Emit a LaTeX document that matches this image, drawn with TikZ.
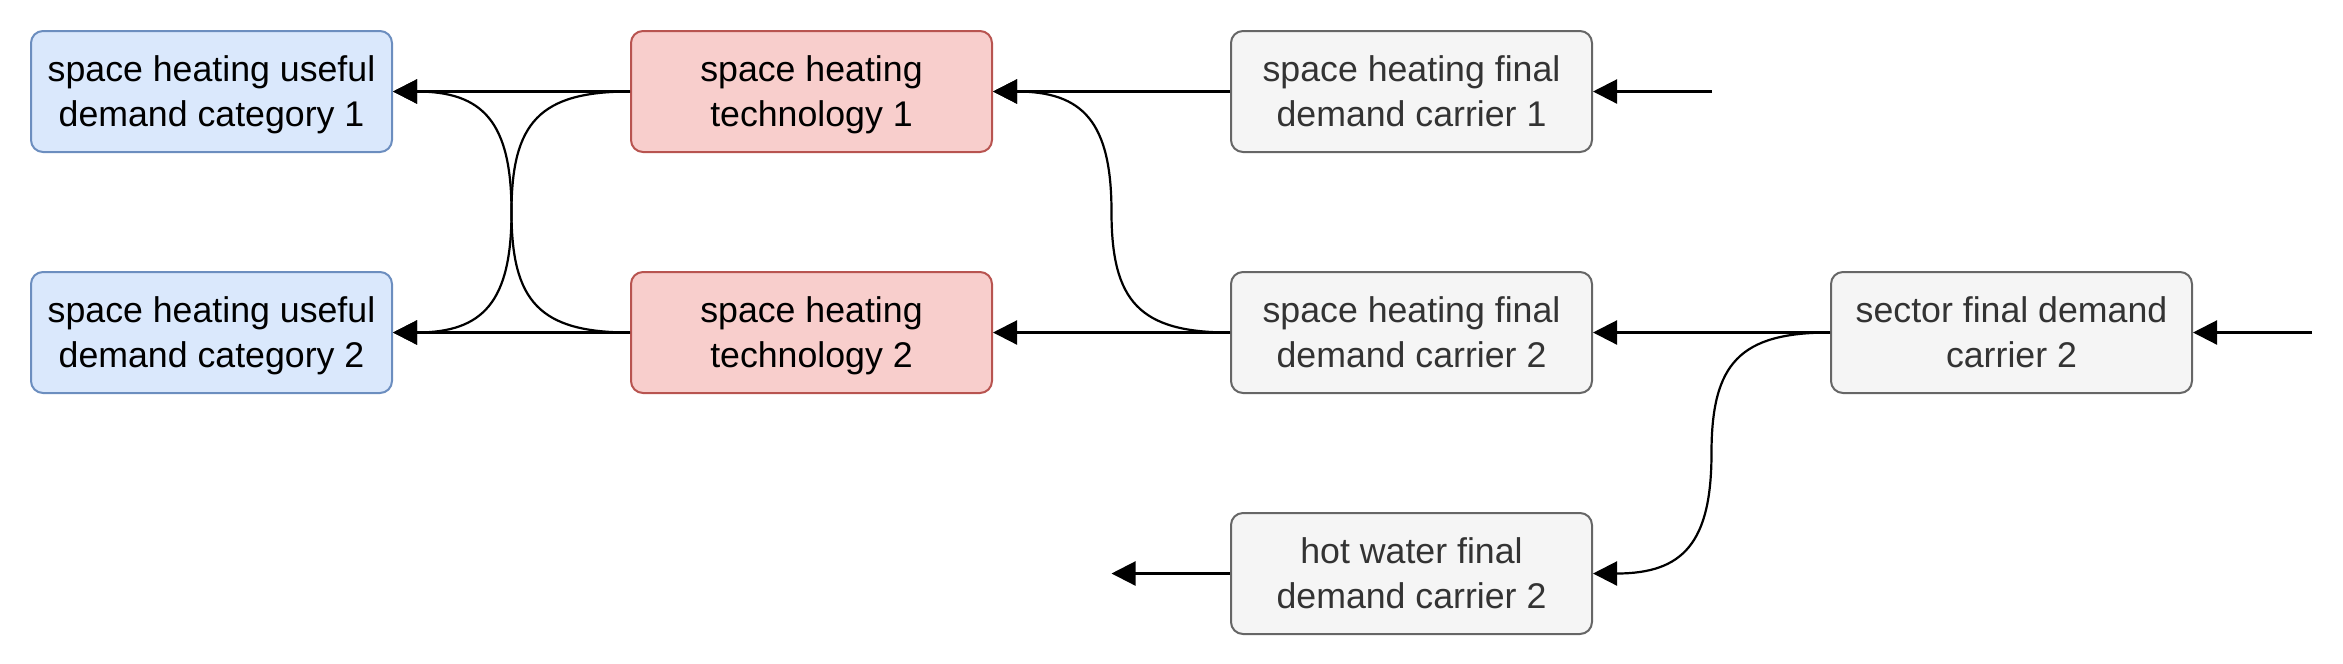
\documentclass[tikz,border=0pt]{standalone}
\usepackage{fontspec}
\setmainfont{Liberation Sans}
\usepackage{xcolor}
\usepackage{tikz}
\usetikzlibrary{calc, arrows.meta}

\definecolor{usefulfill}{HTML}{DAE8FC}
\definecolor{usefuldraw}{HTML}{6C8EBF}
\definecolor{techfill}{HTML}{F8CECC}
\definecolor{techdraw}{HTML}{B85450}
\definecolor{carrierfill}{HTML}{F5F5F5}
\definecolor{carrierdraw}{HTML}{666666}
\definecolor{carriertext}{HTML}{333333}

\tikzset{
	box/.style={rounded corners=0.12cm, line width=0.02cm, minimum width=3.61cm, minimum height=1.21cm,
		align=center, inner sep=0pt, text depth=0pt, font=\fontsize{10.16pt}{12.8pt}\selectfont},
	useful/.style={box, draw=usefuldraw, fill=usefulfill},
	tech/.style={box, draw=techdraw, fill=techfill},
	carrier/.style={box, draw=carrierdraw, fill=carrierfill, text=carriertext},
	flow/.style={line width=0.022cm, -{Triangle[length=0.24cm, width=0.24cm]}}
}

\begin{document}
\begin{tikzpicture}

		\useasboundingbox (0, 0) rectangle (23.43, -6.63);

		\node[useful] (useful1) at (2.115, -0.915) {space heating useful\\demand category 1};
		\node[useful] (useful2) at (2.115, -3.325) {space heating useful\\demand category 2};

		\node[tech] (tech1) at (8.115, -0.915) {space heating\\technology 1};
		\node[tech] (tech2) at (8.115, -3.325) {space heating\\technology 2};

		\node[carrier] (carrier1) at (14.115, -0.915) {space heating final\\demand carrier 1};
		\node[carrier] (carrier2) at (14.115, -3.325) {space heating final\\demand carrier 2};
		\node[carrier] (water2) at (14.115, -5.735) {hot water final\\demand carrier 2};

		\node[carrier] (sector2) at (20.115, -3.325) {sector final demand\\carrier 2};

		\coordinate (in1) at (17.12, -0.915);
		\coordinate (in2) at (23.12, -3.325);
		\coordinate (out2) at (11.115, -5.735);

		% straight flows
		\draw[flow] (in1) -- (carrier1);
		\draw[flow] (in2) -- (sector2);
		\draw[flow] (sector2) -- (carrier2);
		\draw[flow] (carrier1) -- (tech1);
		\draw[flow] (carrier2) -- (tech2);
		\draw[flow] (tech1) -- (useful1);
		\draw[flow] (tech2) -- (useful2);
		\draw[flow] (water2) -- (out2);

		% curved flows
		\draw[flow] (carrier2.west) .. controls +(-0.9, 0) and +(0, -0.9) .. ($(carrier2.west)!0.5!(tech1.east)$)
			.. controls +(0, 0.9) and +(0.9, 0) .. (tech1.east);
		\draw[flow] (sector2.west) .. controls +(-0.9, 0) and +(0, 0.9) .. ($(sector2.west)!0.5!(water2.east)$)
			.. controls +(0, -0.9) and +(0.9, 0) .. (water2.east);
		\draw[flow] (tech1.west) .. controls +(-0.9, 0) and +(0, 0.9) .. ($(tech1.west)!0.5!(useful2.east)$)
			.. controls +(0, -0.9) and +(0.9, 0) .. (useful2.east);
		\draw[flow] (tech2.west) .. controls +(-0.9, 0) and +(0, -0.9) .. ($(tech2.west)!0.5!(useful1.east)$)
			.. controls +(0, 0.9) and +(0.9, 0) .. (useful1.east);

	\end{tikzpicture}
\end{document}
